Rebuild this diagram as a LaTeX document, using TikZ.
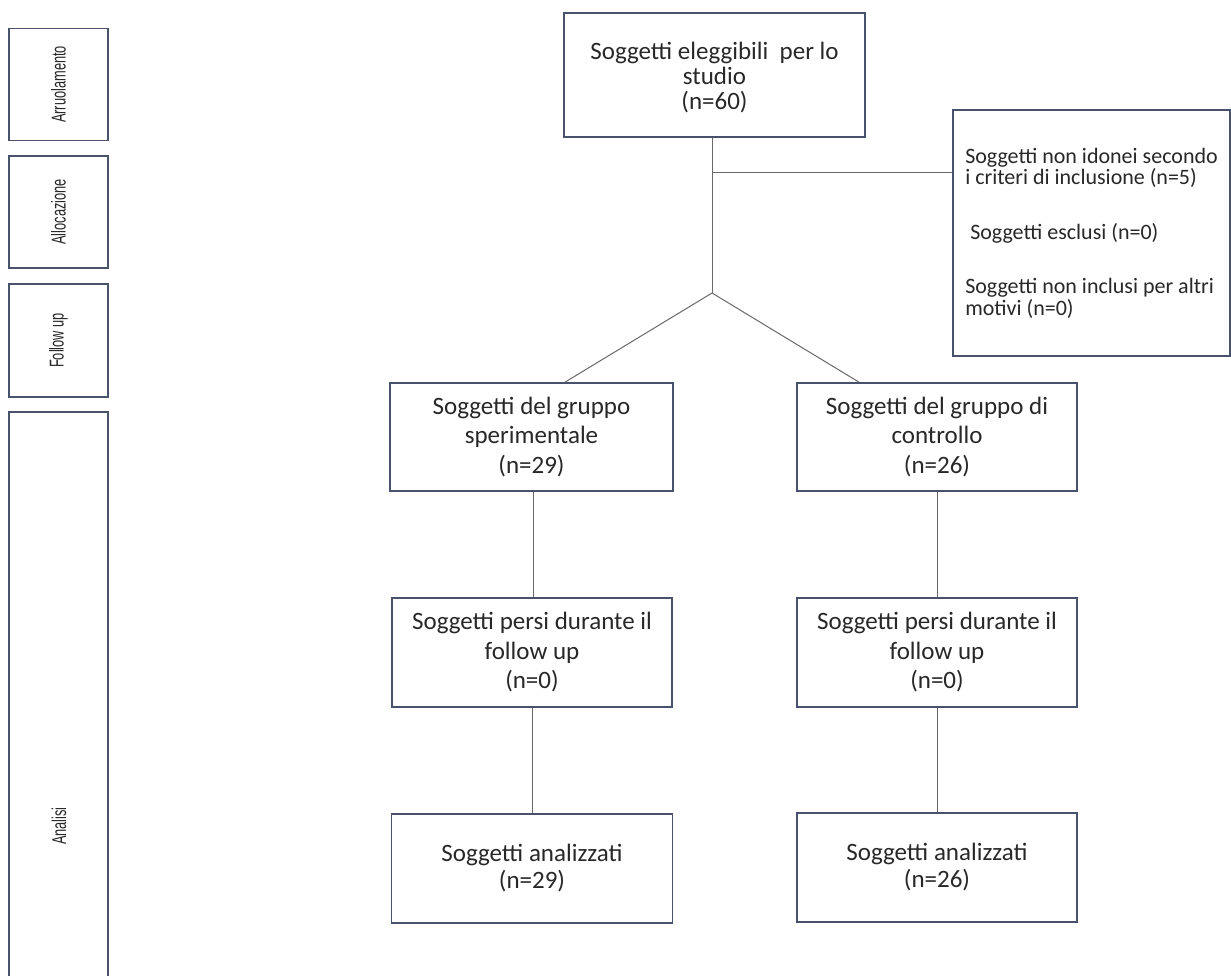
\documentclass[tikz,border=0pt]{standalone}
\usepackage{fontspec}
\usepackage{graphicx}
\setmainfont{Carlito}
\newfontfamily\labfont{Liberation Sans}
\definecolor{boxc}{RGB}{72,82,108}
\definecolor{linec}{RGB}{105,105,105}
\definecolor{txt}{RGB}{40,40,40}
\newcommand{\phasetext}[1]{\rotatebox{90}{\labfont\fontsize{20}{22}\selectfont\scalebox{0.64}[1]{#1}}}
\begin{document}
\begin{tikzpicture}[x=1pt,y=-1pt,
  box/.style={draw=boxc, line width=1.7pt, fill=white, text=txt, align=center, inner sep=0pt, font=\fontsize{25}{29.5}\selectfont},
  boxtext/.style={text=txt, align=center, inner sep=0pt, font=\fontsize{25}{25}\selectfont},
  phase/.style={draw=boxc, line width=1.7pt, fill=white, minimum width=99pt, inner sep=0pt},
  phaselabel/.style={text=txt, inner sep=0pt},
  conn/.style={draw=linec, line width=1pt}]
\clip (0,0) rectangle (1231,976);
\fill[white] (0,0) rectangle (1231,976);
% phase column
\node[phase, minimum height=112pt] (p1) at (58.5,84.5) {};
\node[phaselabel] (l1) at (p1.center) {\phasetext{Arruolamento}};
\node[phase, minimum height=112pt] (p2) at (58.5,212) {};
\node[phaselabel] (l2) at (p2.center) {\phasetext{Allocazione}};
\node[phase, minimum height=113pt] (p3) at (58.5,340.5) {};
\node[phaselabel] (l3) at (p3.center) {\phasetext{Follow up}};
\node[phase, minimum height=588pt] (p4) at (58.5,706) {};
\node[phaselabel] (l4) at (59,826) {\phasetext{Analisi}};
% flow boxes
\node[box, minimum width=301pt, minimum height=124pt] (top) at (714.5,75) {};
\node[boxtext] (toptext) at (714.5,78) {Soggetti eleggibili~ per lo\\studio\\(n=60)};
\node[box, minimum width=277pt, minimum height=246pt, align=left, font=\fontsize{22}{21.5}\selectfont] (excl) at (1091.5,233) {Soggetti non idonei secondo\\i criteri di inclusione (n=5)\\[33pt]\hspace*{5pt}Soggetti esclusi (n=0)\\[33pt]Soggetti non inclusi per altri\\motivi (n=0)};
\node[box, minimum width=283pt, minimum height=108pt] (sper) at (531.5,437) {Soggetti del gruppo\\sperimentale\\(n=29)};
\node[box, minimum width=280pt, minimum height=108pt] (contr) at (937,437) {Soggetti del gruppo di\\controllo\\(n=26)};
\node[box, minimum width=280pt, minimum height=109pt] (fu1) at (532,652.5) {Soggetti persi durante il\\follow up\\(n=0)};
\node[box, minimum width=280pt, minimum height=109pt] (fu2) at (937,652.5) {Soggetti persi durante il\\follow up\\(n=0)};
\node[box, minimum width=281pt, minimum height=109pt, font=\fontsize{25}{27}\selectfont] (an1) at (532,868.5) {Soggetti analizzati\\(n=29)};
\node[box, minimum width=280pt, minimum height=109pt, font=\fontsize{25}{27}\selectfont] (an2) at (937,867.5) {Soggetti analizzati\\(n=26)};
% connectors
\coordinate (j) at (712,293);
\coordinate (h) at (712,173);
\draw[conn] (top.south -| j) -- (j);
\draw[conn] (h) -- (h -| excl.west);
\draw[conn] (j) -- ([xshift=33.5pt]sper.north);
\draw[conn] (j) -- ([xshift=-78pt]contr.north);
\draw[conn] ([xshift=1.5pt]sper.south) -- ([xshift=1pt]fu1.north);
\draw[conn] (contr.south) -- (fu2.north);
\draw[conn] (fu1.south) -- (an1.north);
\draw[conn] (fu2.south) -- (an2.north);
\end{tikzpicture}
\end{document}
